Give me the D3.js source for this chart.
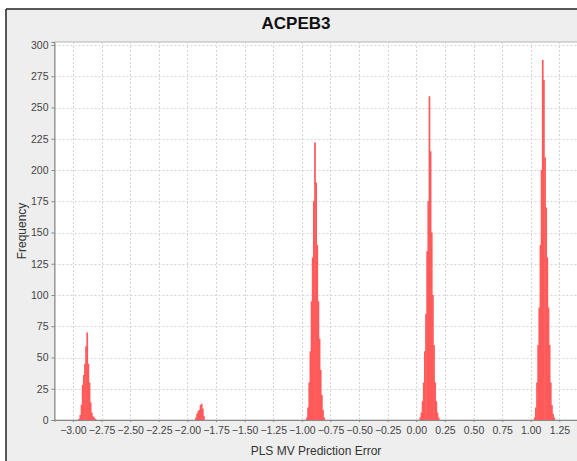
<!DOCTYPE html>
<html>
<head>
<meta charset="utf-8">
<script src="https://cdn.jsdelivr.net/npm/d3@7/dist/d3.min.js"></script>
<style>
    html, body { margin: 0; padding: 0; background: #fff; }
    svg { display: block; font-family: "Liberation Sans", Arial, sans-serif; }
</style>
</head>
<body>
<svg id="chart" width="577" height="461"></svg>
<script>
// histogram bins: each peak is a run of narrow bins starting at peakStarts[i]
var binWidth = 0.01;
var peakStarts = [-2.95, -1.93, -0.96, 0.03, 1.03];
var peakCounts = [
    [1, 4, 12, 28, 36, 45, 59, 70, 45, 30, 14, 6, 3, 2, 1],
    [2, 5, 7, 8, 12, 13, 9, 3],
    [2, 10, 30, 55, 95, 130, 175, 222, 190, 140, 95, 65, 40, 20, 8, 2],
    [2, 6, 15, 30, 55, 85, 135, 175, 259, 215, 150, 100, 60, 30, 15, 6, 2],
    [2, 10, 30, 60, 90, 140, 200, 288, 272, 210, 170, 130, 90, 60, 30, 12, 5, 2]
];
var xTicks = [-3.00, -2.75, -2.50, -2.25, -2.00, -1.75, -1.50, -1.25, -1.00, -0.75, -0.50, -0.25, 0.00, 0.25, 0.50, 0.75, 1.00, 1.25];
var yTicks = [0, 25, 50, 75, 100, 125, 150, 175, 200, 225, 250, 275, 300];
var title = 'ACPEB3';
var xLabel = 'PLS MV Prediction Error';
var yLabel = 'Frequency';

var bins = [];
peakStarts.forEach(function (start, p) {
    peakCounts[p].forEach(function (c, i) {
        bins.push({x0: start + i * binWidth, x1: start + (i + 1) * binWidth, count: c});
    });
});

var svg = d3.select('#chart');
var plot = {left: 54.5, top: 42, right: 578, bottom: 420};

// panel background and frame
svg.append('rect').attr('x', 6).attr('y', 9).attr('width', 580).attr('height', 460).attr('fill', '#eeeeee');
svg.append('line').attr('x1', 6).attr('y1', 9).attr('x2', 577).attr('y2', 9).attr('stroke', '#222').attr('stroke-width', 1.5);
svg.append('line').attr('x1', 6).attr('y1', 9).attr('x2', 6).attr('y2', 461).attr('stroke', '#222').attr('stroke-width', 1.5);

svg.append('text').attr('x', 296).attr('y', 29).attr('text-anchor', 'middle')
    .attr('font-size', 17).attr('font-weight', 'bold').attr('fill', '#111').text(title);

var x = d3.scaleLinear().domain([-3.161, 1.413]).range([plot.left, plot.right]);
var y = d3.scaleLinear().domain([0, 302.4]).range([plot.bottom, plot.top]);

svg.append('rect').attr('x', plot.left).attr('y', plot.top)
    .attr('width', plot.right - plot.left).attr('height', plot.bottom - plot.top)
    .attr('fill', '#fff').attr('stroke', '#b4b4b4').attr('stroke-width', 1);

// dotted grid
var grid = svg.append('g').attr('stroke', '#d4d4d4').attr('stroke-width', 1).attr('stroke-dasharray', '2,2');
grid.selectAll('line.vx').data(xTicks).enter().append('line')
    .attr('x1', function (d) { return Math.round(x(d)) + 0.5; })
    .attr('x2', function (d) { return Math.round(x(d)) + 0.5; })
    .attr('y1', plot.top).attr('y2', plot.bottom);
grid.selectAll('line.hy').data(yTicks.slice(1)).enter().append('line')
    .attr('y1', function (d) { return Math.round(y(d)) + 0.5; })
    .attr('y2', function (d) { return Math.round(y(d)) + 0.5; })
    .attr('x1', plot.left).attr('x2', plot.right);

// bars (slight overlap so neighbouring bins read as one solid peak)
svg.append('g').selectAll('rect').data(bins).enter().append('rect')
    .attr('x', function (d) { return x(d.x0) - 0.3; })
    .attr('width', function (d) { return x(d.x1) - x(d.x0) + 0.6; })
    .attr('y', function (d) { return y(d.count); })
    .attr('height', function (d) { return y(0) - y(d.count); })
    .attr('fill', '#ff5a5a');

// axes
var xAxis = d3.axisBottom(x).tickValues(xTicks).tickFormat(d3.format('.2f')).tickSize(2).tickPadding(5);
var yAxis = d3.axisLeft(y).tickValues(yTicks).tickSize(3).tickPadding(3);

var gx = svg.append('g').attr('transform', 'translate(0,' + plot.bottom + ')').call(xAxis);
var gy = svg.append('g').attr('transform', 'translate(' + plot.left + ',0)').call(yAxis);
[gx, gy].forEach(function (g) {
    g.select('.domain').attr('stroke', '#888');
    g.selectAll('.tick line').attr('stroke', '#888');
    g.selectAll('.tick text').attr('fill', '#444').attr('font-size', 10.5)
        .attr('font-family', '"Liberation Sans", Arial, sans-serif');
});

svg.append('text').attr('x', 316).attr('y', 455).attr('text-anchor', 'middle')
    .attr('font-size', 12).attr('fill', '#333').text(xLabel);
svg.append('text').attr('transform', 'translate(26,231) rotate(-90)').attr('text-anchor', 'middle')
    .attr('font-size', 12).attr('fill', '#333').text(yLabel);
</script>
</body>
</html>
